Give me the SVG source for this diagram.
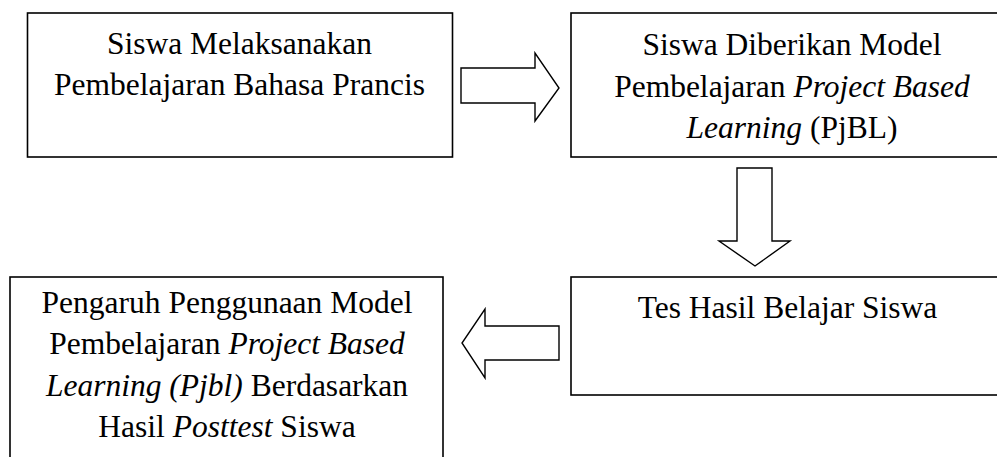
<svg xmlns="http://www.w3.org/2000/svg" width="997" height="457" viewBox="0 0 997 457">
<style>
.box{fill:#fff;stroke:#000;stroke-width:1.6}
.arr{fill:#fff;stroke:#000;stroke-width:1.4;stroke-linejoin:miter}
text{font-family:"Liberation Serif","Times New Roman",serif;font-size:31.5px;fill:#000;text-anchor:middle}
.i{font-style:italic}
</style>
<rect width="997" height="457" fill="#fff"/>
<g id="n1">
<rect class="box" x="27.5" y="13" width="425" height="144"/>
<text x="239.5" y="54">Siswa Melaksanakan</text>
<text x="239.5" y="95">Pembelajaran Bahasa Prancis</text>
</g>
<g id="n2">
<rect class="box" x="571" y="13" width="442" height="144"/>
<text x="792" y="55">Siswa Diberikan Model</text>
<text x="792" y="97">Pembelajaran <tspan class="i">Project Based</tspan></text>
<text x="792" y="138"><tspan class="i">Learning</tspan> (PjBL)</text>
</g>
<g id="n3">
<rect class="box" x="571" y="277" width="433" height="118"/>
<text x="787.5" y="318">Tes Hasil Belajar Siswa</text>
</g>
<g id="n4">
<rect class="box" x="10" y="277" width="433" height="200"/>
<text x="227" y="313">Pengaruh Penggunaan Model</text>
<text x="227" y="354">Pembelajaran <tspan class="i">Project Based</tspan></text>
<text x="227" y="396"><tspan class="i">Learning (Pjbl)</tspan> Berdasarkan</text>
<text x="227" y="437">Hasil <tspan class="i">Posttest</tspan> Siswa</text>
</g>
<g id="connectors">
<polygon class="arr" points="461,68 535,68 535,53 559,88 535,121 535,103 461,103"/>
<polygon class="arr" points="737,168 772,168 772,241 790,241 755,266 719,241 737,241"/>
<polygon class="arr" points="559,326 485,326 485,309 462,343 485,378 485,360 559,360"/>
</g>
</svg>
